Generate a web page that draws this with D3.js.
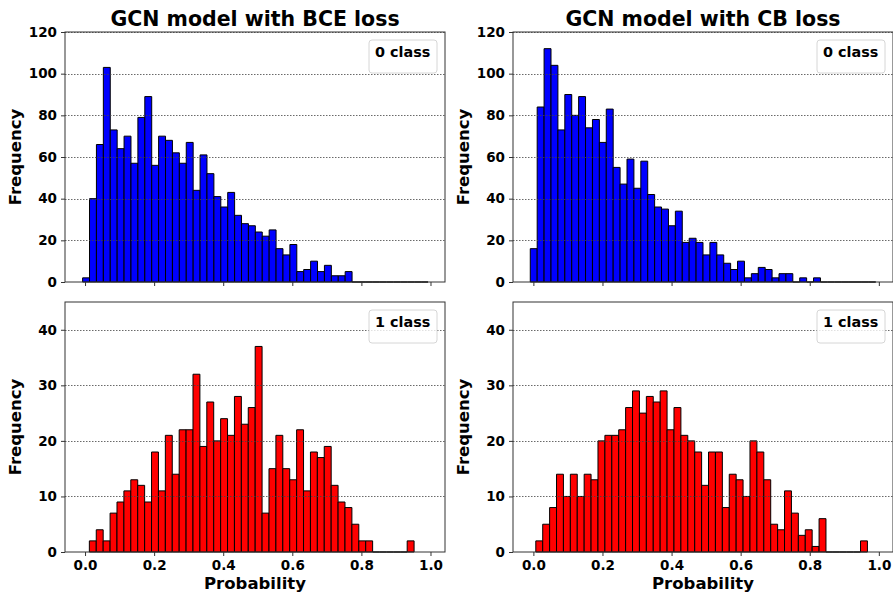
<!DOCTYPE html>
<html>
<head>
<meta charset="utf-8">
<script src="https://cdn.jsdelivr.net/npm/d3@7"></script>
<style>
  body { margin: 0; background: #fff; }
  text { font-family: "DejaVu Sans", sans-serif; font-weight: bold; fill: #000; }
</style>
</head>
<body>
<div id="chart"></div>
<script>
// histogram counts (bin width 0.02)
var bceClass0 = [2,40,66,103,73,64,70,57,79,89,56,70,68,62,57,67,44,61,52,41,
                 36,43,32,28,27,24,22,25,16,13,18,5,6,10,5,8,3,3,5,0,
                 0,0,0,0,0,0,0,0,0,0];
var cbClass0  = [16,84,112,104,73,90,80,89,74,78,67,83,55,47,59,45,58,42,36,35,
                 27,34,19,21,19,13,19,13,9,6,10,2,4,7,6,2,4,4,0,2,
                 0,2,0,0,0,0,0,0,0,0];
var bceClass1 = [2,4,2,7,9,11,13,12,9,18,11,21,14,22,22,32,19,27,20,24,
                 21,28,23,26,37,7,15,21,15,13,22,11,18,17,19,12,9,8,5,2,
                 2,0,0,0,0,0,2];
var cbClass1  = [2,5,8,14,10,14,10,14,13,20,21,21,22,26,29,25,28,27,29,22,
                 26,21,20,18,12,18,18,8,14,13,10,20,18,13,5,4,11,7,3,4,
                 1,6,0,0,0,0,0,2];

// first bin edge of each histogram
var binStart = { bce0: -0.007, cb0: -0.009, bce1: 0.0125, cb1: 0.007 };
var binWidth = 0.02;

var xTicks = [0, 0.2, 0.4, 0.6, 0.8, 1.0];
var yTicksTop = [0, 20, 40, 60, 80, 100, 120];
var yTicksBottom = [0, 10, 20, 30, 40];
var titles = ["GCN model with BCE loss", "GCN model with CB loss"];
var legendText = ["0 class", "1 class"];

var svgwidth = 893, svgheight = 592;

var svg = d3.select("#chart")
  .append("svg")
  .attr("width", svgwidth)
  .attr("height", svgheight);

// column / row geometry
var cols = [
  { left: 65, right: 445, domain: [-0.058, 1.042] },
  { left: 513, right: 893, domain: [-0.059, 1.041] }
];
var rows = [
  { top: 32, bottom: 282, ymax: 120, ticks: yTicksTop },
  { top: 302, bottom: 552, ymax: 45, ticks: yTicksBottom }
];

function drawPanel(col, row, counts, start, color, legend, showXLabels) {
  var x = d3.scaleLinear().domain(col.domain).range([col.left, col.right]);
  var y = d3.scaleLinear().domain([0, row.ymax]).range([row.bottom, row.top]);
  var g = svg.append("g");

  // bars (paths so zero-height bins still show their edge)
  g.selectAll("path.bar")
    .data(counts)
    .enter()
    .append("path")
    .attr("class", "bar")
    .attr("d", function(d, i) {
      var x0 = x(start + i * binWidth), x1 = x(start + (i + 1) * binWidth);
      return "M" + x0 + "," + y(0) + "V" + y(d) + "H" + x1 + "V" + y(0) + "Z";
    })
    .attr("fill", color)
    .attr("stroke", "#000")
    .attr("stroke-width", 1);

  // dotted grid on top of bars
  g.selectAll("line.grid")
    .data(row.ticks.filter(function(t) { return t > 0; }))
    .enter()
    .append("line")
    .attr("x1", col.left).attr("x2", col.right)
    .attr("y1", function(d) { return Math.round(y(d)) + 0.5; })
    .attr("y2", function(d) { return Math.round(y(d)) + 0.5; })
    .attr("stroke", "#444")
    .attr("stroke-width", 0.8)
    .attr("stroke-dasharray", "1.5,1.5");

  // axes
  var xAxis = d3.axisBottom(x).tickValues(xTicks).tickSize(4).tickPadding(4)
    .tickFormat(showXLabels ? d3.format(".1f") : "");
  var xg = g.append("g")
    .attr("transform", "translate(0," + row.bottom + ")")
    .call(xAxis);
  var yAxis = d3.axisLeft(y).tickValues(row.ticks).tickSize(4).tickPadding(4);
  var yg = g.append("g")
    .attr("transform", "translate(" + col.left + ",0)")
    .call(yAxis);
  [xg, yg].forEach(function(a) {
    a.select(".domain").remove();
    a.selectAll("line").attr("stroke", "#333");
    a.selectAll("text").attr("font-size", 13.5).attr("font-family", "DejaVu Sans").attr("font-weight", "bold");
  });

  // frame
  g.append("rect")
    .attr("x", col.left).attr("y", row.top)
    .attr("width", col.right - col.left).attr("height", row.bottom - row.top)
    .attr("fill", "none").attr("stroke", "#333").attr("stroke-width", 1);

  // legend box
  var lx = col.right - 76, ly = row.top + 8;
  g.append("rect")
    .attr("x", lx).attr("y", ly).attr("width", 68).attr("height", 33)
    .attr("rx", 3)
    .attr("fill", "#fff").attr("fill-opacity", 0.8)
    .attr("stroke", "#d6d6d6");
  g.append("text")
    .attr("x", lx + 6).attr("y", ly + 17)
    .attr("font-size", 14.4)
    .text(legend);

  // y label
  g.append("text")
    .attr("transform", "translate(" + (col.left - 44) + "," + ((row.top + row.bottom) / 2) + ") rotate(-90)")
    .attr("text-anchor", "middle")
    .attr("font-size", 16.5)
    .text("Frequency");
}

drawPanel(cols[0], rows[0], bceClass0, binStart.bce0, "#0000ff", legendText[0], false);
drawPanel(cols[1], rows[0], cbClass0, binStart.cb0, "#0000ff", legendText[0], false);
drawPanel(cols[0], rows[1], bceClass1, binStart.bce1, "#ff0000", legendText[1], true);
drawPanel(cols[1], rows[1], cbClass1, binStart.cb1, "#ff0000", legendText[1], true);

// titles and x labels
cols.forEach(function(c, i) {
  svg.append("text")
    .attr("x", (c.left + c.right) / 2).attr("y", 26)
    .attr("text-anchor", "middle")
    .attr("font-size", 20.5)
    .text(titles[i]);
  svg.append("text")
    .attr("x", (c.left + c.right) / 2).attr("y", 589)
    .attr("text-anchor", "middle")
    .attr("font-size", 16.5)
    .text("Probability");
});
</script>
</body>
</html>
